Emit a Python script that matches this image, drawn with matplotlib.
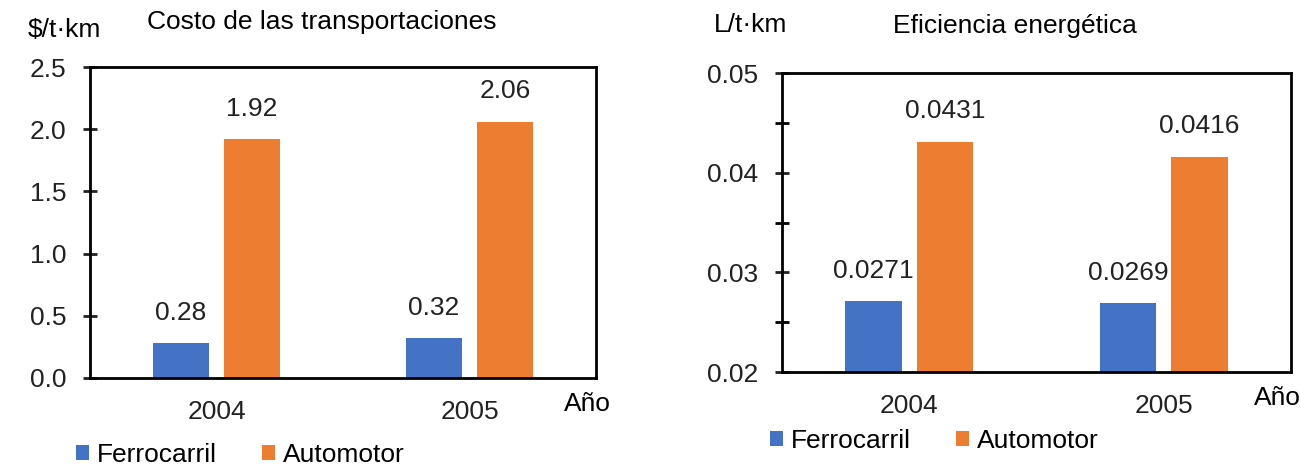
import matplotlib
matplotlib.use("Agg")
import matplotlib.pyplot as plt
import numpy as np
from matplotlib.ticker import MultipleLocator, FormatStrFormatter

plt.rcParams['font.family'] = ['Liberation Sans', 'DejaVu Sans']

# data
years = ['2004', '2005']
series = ['Ferrocarril', 'Automotor']
costo_ferro = [0.28, 0.32]
costo_auto = [1.92, 2.06]
efic_ferro = [0.0271, 0.0269]
efic_auto = [0.0431, 0.0416]

blue = '#4472C4'
orange = '#ED7D31'
fs = 19

fig = plt.figure(figsize=(13.01, 4.65), dpi=100)
ax1 = fig.add_axes([0.0692, 0.1871, 0.3889, 0.6688])
ax2 = fig.add_axes([0.6011, 0.2000, 0.3912, 0.6430])

x = np.arange(len(years))
w = 0.222
off = 0.140


def draw(ax, ferro, auto, ylim, major, minor, fmt, lblfmt):
    b1 = ax.bar(x - off, ferro, w, color=blue, label=series[0], zorder=2)
    b2 = ax.bar(x + off, auto, w, color=orange, label=series[1], zorder=2)
    for bars, vals in ((b1, ferro), (b2, auto)):
        for r, v in zip(bars, vals):
            ax.annotate(lblfmt.format(v), (r.get_x() + r.get_width() / 2, r.get_height()),
                        xytext=(0, 22), textcoords='offset points',
                        ha='center', va='center', fontsize=fs, color='#222222')
    ax.set_xlim(-0.5, 1.5)
    ax.set_ylim(*ylim)
    ax.yaxis.set_major_locator(MultipleLocator(major))
    ax.yaxis.set_major_formatter(FormatStrFormatter(fmt))
    if minor:
        ax.yaxis.set_minor_locator(MultipleLocator(minor))
        ax.tick_params(axis='y', which='minor', direction='inout', length=10, width=2)
    ax.set_xticks(x)
    ax.set_xticklabels(years)
    ax.tick_params(axis='y', which='major', direction='inout', length=10, width=2,
                   labelsize=fs, pad=12, colors='#222222')
    ax.tick_params(axis='x', length=0, labelsize=fs, pad=16, colors='#222222')
    for s in ax.spines.values():
        s.set_linewidth(2)
        s.set_color('black')
    return b1, b2


draw(ax1, costo_ferro, costo_auto, (0, 2.5), 0.5, None, '%.1f', '{:.2f}')
draw(ax2, efic_ferro, efic_auto, (0.02, 0.05), 0.01, 0.005, '%.2f', '{:.4f}')

# titles and units
fig.text(322 / 1301, 1 - 22 / 465, 'Costo de las transportaciones', ha='center', va='center', fontsize=fs)
fig.text(28 / 1301, 1 - 30 / 465, '$/t·km', ha='left', va='center', fontsize=fs)
fig.text(1015 / 1301, 1 - 26 / 465, 'Eficiencia energética', ha='center', va='center', fontsize=fs)
fig.text(714 / 1301, 1 - 25 / 465, 'L/t·km', ha='left', va='center', fontsize=fs)
fig.text(564 / 1301, 1 - 404 / 465, 'Año', ha='left', va='center', fontsize=fs)
fig.text(1254 / 1301, 1 - 398 / 465, 'Año', ha='left', va='center', fontsize=fs)

# legends
for ax, lx, ly in ((ax1, 76 / 1301, 1 - 455 / 465), (ax2, 770 / 1301, 1 - 441 / 465)):
    ax.legend(loc='center left', bbox_to_anchor=(lx, ly), bbox_transform=fig.transFigure,
              ncol=2, frameon=False, fontsize=fs, handlelength=0.5, handleheight=0.5,
              handletextpad=0.3, columnspacing=1.7, borderpad=0, borderaxespad=0)

fig.savefig('out.png', dpi=100)
